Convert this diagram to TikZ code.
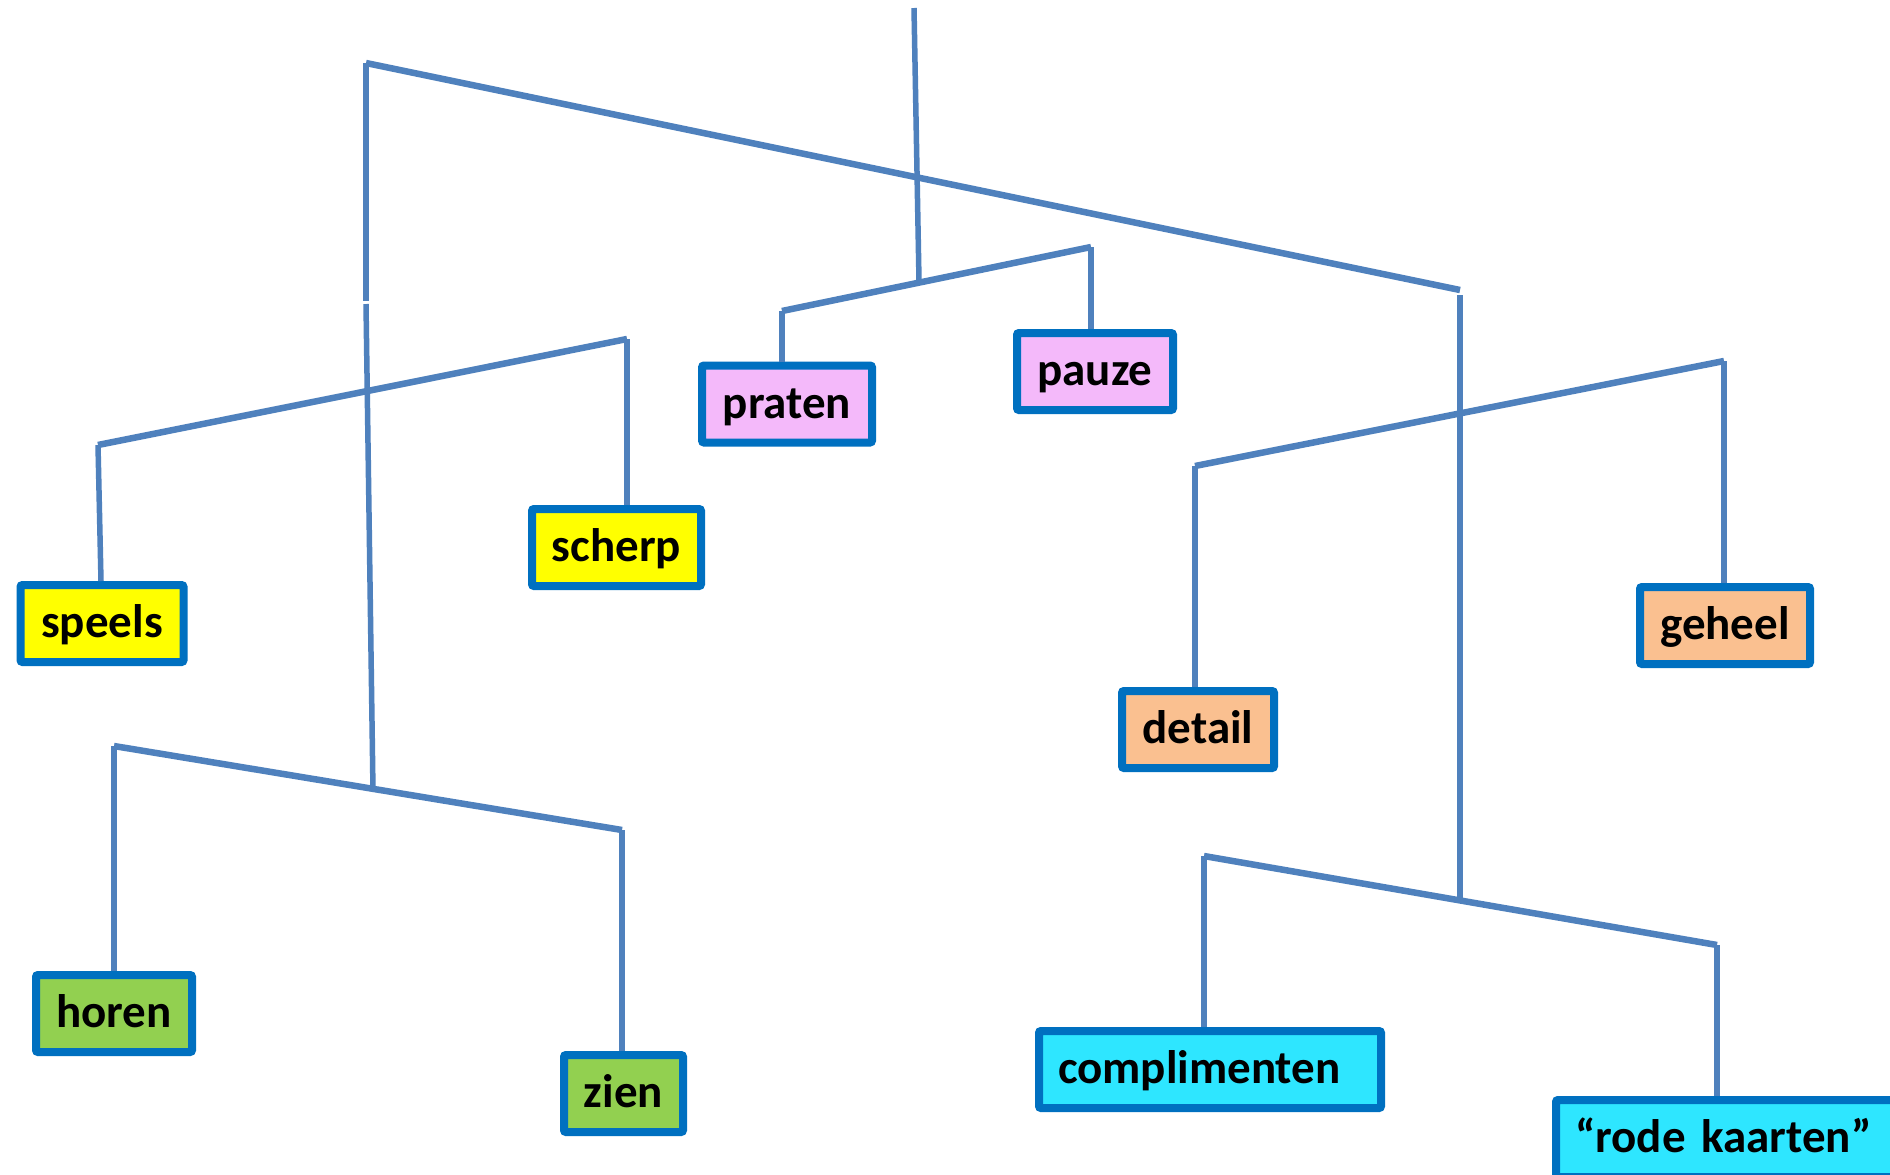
\documentclass[tikz,border=0pt]{standalone}
\usepackage{fontspec}
\setmainfont{Carlito}
\definecolor{linec}{HTML}{4F81BD}
\definecolor{boxline}{HTML}{0070C0}
\definecolor{fyellow}{HTML}{FFFF00}
\definecolor{fpink}{HTML}{F4B9FA}
\definecolor{fgreen}{HTML}{92D050}
\definecolor{fpeach}{HTML}{FAC090}
\definecolor{fcyan}{HTML}{2EE6FF}
\begin{document}
\begin{tikzpicture}[x=0.5pt,y=-0.5pt,
  beam/.style={draw=linec,line width=3.25pt},
  hang/.style={draw=linec,line width=2.75pt},
  lbl/.style={draw=boxline,line width=4pt,rounded corners=1pt,minimum height=38.5pt,
    inner sep=0pt,text height=17pt,text depth=3pt,
    font=\fontsize{23.5}{28}\selectfont\bfseries,text=black},
  widelbl/.style={lbl,inner xsep=9.5pt,text width=152pt,align=left},
]
\useasboundingbox (0,0) rectangle (1890,1174);
\clip (0,0) rectangle (1890,1174);
\fill[white] (0,0) rectangle (1890,1174);

% beam end points
\coordinate (top) at (914,8);
\coordinate (topH) at (919,281);
\coordinate (B1l) at (366,63);
\coordinate (B1r) at (1460,290);
\coordinate (L1) at (366,301);
\coordinate (L2) at (366,304);
\coordinate (L3) at (373,791);
\coordinate (R1) at (1460,295);
\coordinate (R4) at (1460,901);
\coordinate (Ml) at (782,311);
\coordinate (Mr) at (1091,247);
\coordinate (Sl) at (98,445);
\coordinate (Sr) at (627,339);
\coordinate (Hl) at (114,746);
\coordinate (Hr) at (622,830);
\coordinate (Dl) at (1195,466);
\coordinate (Dr) at (1724,361);
\coordinate (Cl) at (1204,856);
\coordinate (Cr) at (1717,945);

% boxes
\node[lbl,fill=fpink,minimum width=85pt] (praten) at (787,404) {praten};
\node[lbl,fill=fpink,minimum width=78pt] (pauze) at (1095,371.5) {pauze};
\node[lbl,fill=fyellow,minimum width=81.5pt] (speels) at (102,623.5) {speels};
\node[lbl,fill=fyellow,minimum width=84.5pt] (scherp) at (616.5,547.5) {scherp};
\node[lbl,fill=fgreen,minimum width=78pt] (horen) at (114,1013.5) {horen};
\node[lbl,fill=fgreen,minimum width=59.5pt] (zien) at (623.5,1093.5) {zien};
\node[lbl,fill=fpeach,minimum width=76pt] (detail) at (1198,729.5) {detail};
\node[lbl,fill=fpeach,minimum width=85pt] (geheel) at (1725,625.5) {geheel};
\node[widelbl,fill=fcyan] (compl) at (1210,1069.5) {complimenten};
\node[widelbl,fill=fcyan] (rode) at (1727,1138.5) {“rode kaarten”};

% beams
\draw[beam] (B1l) -- (B1r);
\draw[beam] (Ml) -- (Mr);
\draw[beam] (Sl) -- (Sr);
\draw[beam] (Hl) -- (Hr);
\draw[beam] (Dl) -- (Dr);
\draw[beam] (Cl) -- (Cr);

% strings
\draw[hang] (top) -- (topH);
\draw[hang] (B1l) -- (L1);
\draw[hang] (L2) -- (L3);
\draw[hang] (R1) -- (R4);
\draw[hang] (Ml) -- (praten.north -| Ml);
\draw[hang] (Mr) -- (pauze.north -| Mr);
\draw[hang] (Sl) -- (101,581) -- (speels.north -| 101,0);
\draw[hang] (Sr) -- (scherp.north -| Sr);
\draw[hang] (Hl) -- (horen.north -| Hl);
\draw[hang] (Hr) -- (zien.north -| Hr);
\draw[hang] (Dl) -- (detail.north -| Dl);
\draw[hang] (Dr) -- (geheel.north -| Dr);
\draw[hang] (Cl) -- (compl.north -| Cl);
\draw[hang] (Cr) -- (rode.north -| Cr);
\end{tikzpicture}
\end{document}
